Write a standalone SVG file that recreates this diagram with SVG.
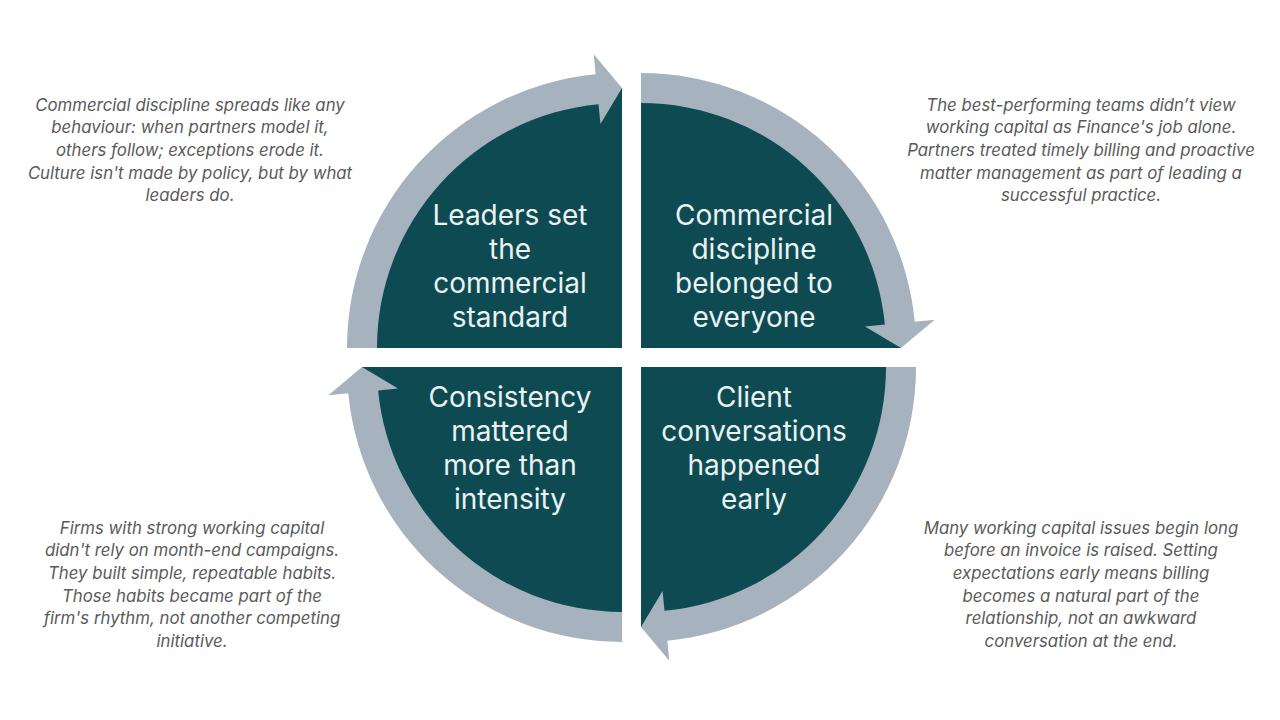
<svg xmlns="http://www.w3.org/2000/svg" width="1280" height="720" viewBox="0 0 1280 720">
<style>
.q{fill:#0E4A52}
.arr{fill:#A7B2BF}
.lbl{font-family:Inter,"Noto Sans",sans-serif;font-size:28px;fill:#EAF2F2;text-anchor:middle}
.note{font-family:Inter,"Noto Sans",sans-serif;font-style:italic;font-size:16.8px;fill:#5A5A5A;text-anchor:middle}
</style>
<rect width="1280" height="720" fill="#FFFFFF"/>
<g id="node-tl">
<path class="q" d="M622 348 L362 348 A260 260 0 0 1 622 88 Z"/>
<text class="lbl"><tspan x="510" y="225">Leaders set</tspan><tspan x="510" y="259">the</tspan><tspan x="510" y="293">commercial</tspan><tspan x="510" y="327">standard</tspan></text>
</g>
<g id="node-tr">
<path class="q" d="M641 348 L641 88 A260 260 0 0 1 901 348 Z"/>
<text class="lbl"><tspan x="754" y="225">Commercial</tspan><tspan x="754" y="259">discipline</tspan><tspan x="754" y="293">belonged to</tspan><tspan x="754" y="327">everyone</tspan></text>
</g>
<g id="node-br">
<path class="q" d="M641 367 L901 367 A260 260 0 0 1 641 627 Z"/>
<text class="lbl"><tspan x="754" y="407">Client</tspan><tspan x="754" y="441">conversations</tspan><tspan x="754" y="475">happened</tspan><tspan x="754" y="509">early</tspan></text>
</g>
<g id="node-bl">
<path class="q" d="M622 367 L622 627 A260 260 0 0 1 362 367 Z"/>
<text class="lbl"><tspan x="510" y="407">Consistency</tspan><tspan x="510" y="441">mattered</tspan><tspan x="510" y="475">more than</tspan><tspan x="510" y="509">intensity</tspan></text>
</g>
<g id="connectors">
<path class="arr" d="M347 348 A275 275 0 0 1 595.64 74.27 L593.72 54.36 L622 88 L600.43 124.03 L598.52 104.13 A245 245 0 0 0 377 348 Z"/>
<path class="arr" d="M641 73 A275 275 0 0 1 914.74 321.64 L934.64 319.72 L901 348 L864.97 326.43 L884.87 324.52 A245 245 0 0 0 641 103 Z"/>
<path class="arr" d="M916 367 A275 275 0 0 1 667.36 640.74 L669.28 660.64 L641 627 L662.57 590.97 L664.48 610.87 A245 245 0 0 0 886 367 Z"/>
<path class="arr" d="M622 642 A275 275 0 0 1 348.26 393.36 L328.36 395.28 L362 367 L398.03 388.57 L378.13 390.48 A245 245 0 0 0 622 612 Z"/>
</g>
<g id="note-tl">
<text class="note"><tspan x="190" y="111">Commercial discipline spreads like any</tspan><tspan x="190" y="133">behaviour: when partners model it,</tspan><tspan x="190" y="156">others follow; exceptions erode it.</tspan><tspan x="190" y="179">Culture isn't made by policy, but by what</tspan><tspan x="190" y="201">leaders do.</tspan></text>
</g>
<g id="note-tr">
<text class="note"><tspan x="1081" y="111">The best-performing teams didn’t view</tspan><tspan x="1081" y="133">working capital as Finance's job alone.</tspan><tspan x="1081" y="156">Partners treated timely billing and proactive</tspan><tspan x="1081" y="179">matter management as part of leading a</tspan><tspan x="1081" y="201">successful practice.</tspan></text>
</g>
<g id="note-bl">
<text class="note"><tspan x="192" y="534">Firms with strong working capital</tspan><tspan x="192" y="556">didn't rely on month-end campaigns.</tspan><tspan x="192" y="579">They built simple, repeatable habits.</tspan><tspan x="192" y="602">Those habits became part of the</tspan><tspan x="192" y="624">firm's rhythm, not another competing</tspan><tspan x="192" y="647">initiative.</tspan></text>
</g>
<g id="note-br">
<text class="note"><tspan x="1081" y="534">Many working capital issues begin long</tspan><tspan x="1081" y="556">before an invoice is raised. Setting</tspan><tspan x="1081" y="579">expectations early means billing</tspan><tspan x="1081" y="602">becomes a natural part of the</tspan><tspan x="1081" y="624">relationship, not an awkward</tspan><tspan x="1081" y="647">conversation at the end.</tspan></text>
</g>
</svg>
